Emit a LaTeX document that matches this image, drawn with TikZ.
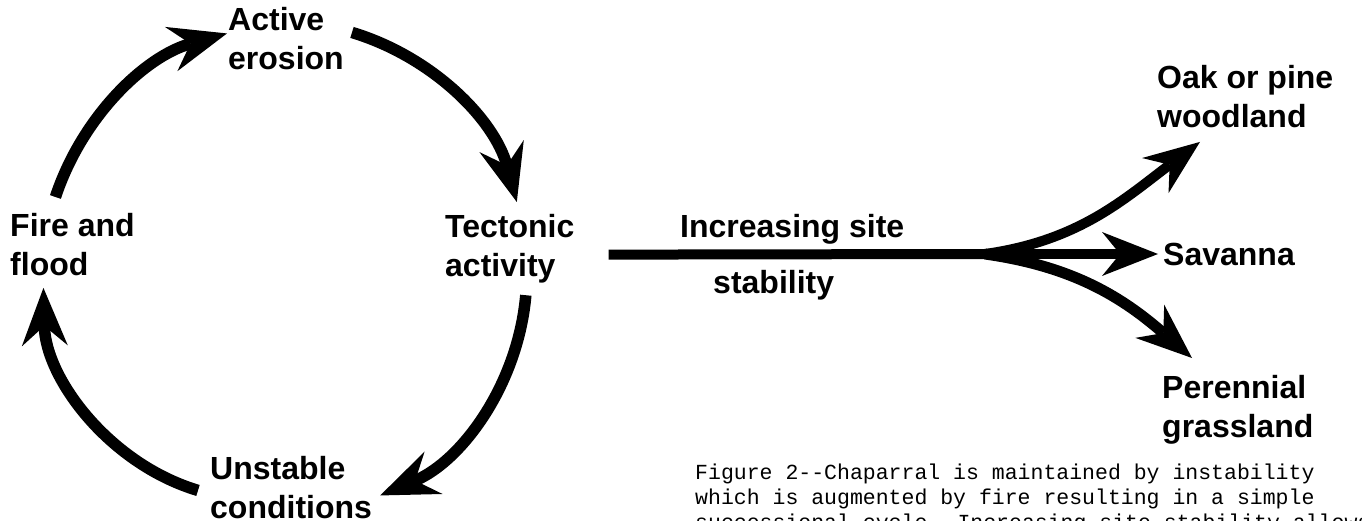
\documentclass[tikz,border=0pt]{standalone}
\usepackage{fontspec}
\setmainfont{Liberation Sans}
\newfontfamily\capfont{Liberation Mono}
\usetikzlibrary{arrows.meta,positioning}

\begin{document}
\begin{tikzpicture}[x=1pt,y=1pt,
  lbl/.style={inner sep=0pt,anchor=north west,align=left,font=\fontsize{32}{39}\selectfont\bfseries},
  capt/.style={inner sep=0pt,anchor=north west,align=left,font=\capfont\fontsize{21.5}{25}\selectfont},
  cycarrow/.style={line width=11.5pt,-{Stealth[length=58pt,width=46pt,inset=20pt,line width=0pt]}},
  brarrow/.style={line width=10pt,-{Stealth[length=56pt,width=44pt,inset=18pt,line width=0pt]}}]
\useasboundingbox (0,0) rectangle (1362,-521);

% the cycle
\node[lbl] (active) at (228,-7) {Active\\erosion};
\node[lbl] (tectonic) at (445,-214) {Tectonic\\activity};
\node[lbl] (unstable) at (210,-456) {Unstable\\conditions};
\node[lbl] (fire) at (10,-213) {Fire and\\flood};

\draw[cycarrow] ([shift={(-17,16)}]fire.north) to[bend left=28,looseness=0.92] ([shift={(-1,5)}]active.west);
\draw[cycarrow] ([shift={(8,6)}]active.east) to[bend left=29,looseness=0.92] ([shift={(7,12)}]tectonic.north);
\draw[cycarrow] ([shift={(16,-12)}]tectonic.south) to[bend left=31,looseness=0.92] ([shift={(8,-8)}]unstable.east);
\draw[cycarrow] ([shift={(-12,-3)}]unstable.west) to[bend left=36,looseness=0.92] ([shift={(-29,-12)}]fire.south);

% stability and the three ends
\coordinate (fork) at (985,-254);
\node[lbl] (incr) at (680,-214) {Increasing site};
\node[lbl] (stab) at (713,-270) {stability};
\node[lbl] (oak) at (1157,-65) {Oak or pine\\woodland};
\node[lbl,anchor=west] (savanna) at (1163,-254) {Savanna};
\node[lbl] (perennial) at (1162,-375) {Perennial\\grassland};

\draw[line width=10pt] ([shift={(34,-6)}]tectonic.east) -- (fork);
\draw[brarrow] (fork) to[out=8,in=217] ([shift={(43,-14)}]oak.south west);
\draw[brarrow] (fork) -- ([xshift=-5pt]savanna.west);
\draw[brarrow,line width=11pt] (fork) to[out=-8,in=139] ([shift={(30,17)}]perennial.north west);

\node[capt] (caption) at (695,-464) {Figure 2-{}-Chaparral is maintained by instability\\which is augmented by fire resulting in a simple\\successional cycle. Increasing site stability allows};
\end{tikzpicture}
\end{document}
